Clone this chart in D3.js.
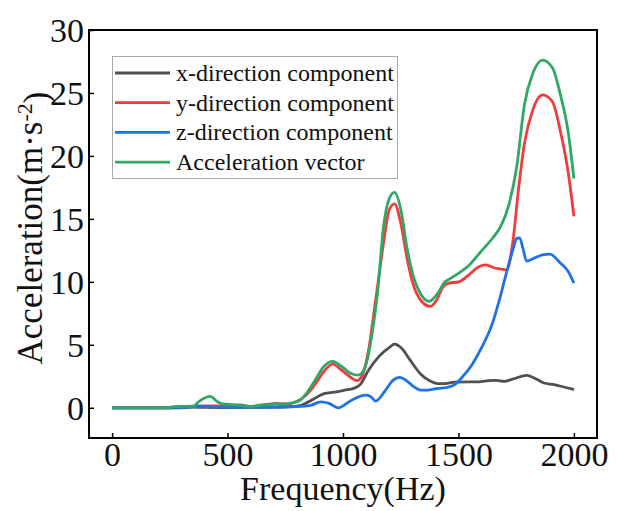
<!DOCTYPE html>
<html>
<head>
<meta charset="utf-8">
<script src="https://cdn.jsdelivr.net/npm/d3@7"></script>
<style>
  html, body { margin: 0; padding: 0; background: #fff; }
  svg { display: block; }
  svg text { font-family: "Liberation Serif", "Times New Roman", serif; }
</style>
</head>
<body>
<svg id="chart" width="624" height="511"></svg>
<script>
// Frequency response of the acceleration components (Hz -> m·s^-2)
const xTicks = [0, 500, 1000, 1500, 2000];
const yTicks = [0, 5, 10, 15, 20, 25, 30];

const seriesNames = ["x-direction component", "y-direction component", "z-direction component", "Acceleration vector"];
const seriesColors = ["#505050", "#f23b3b", "#1f72e6", "#2fa865"];

const xFreq = [0, 200, 300, 350, 400, 500, 600, 700, 760, 814, 873, 918, 963, 1007, 1052, 1074, 1111, 1156, 1201, 1223, 1253, 1290, 1335, 1379, 1409, 1440, 1484, 1543, 1588, 1632, 1662, 1699, 1737, 1796, 1841, 1870, 1915, 1960, 2000];
const xVals = [0, 0, 0.02, 0.05, 0.03, 0.02, 0.03, 0.05, 0.08, 0.18, 0.7, 1.13, 1.24, 1.4, 1.58, 1.84, 3.0, 4.08, 4.8, 5.05, 4.74, 3.8, 2.7, 2.1, 1.92, 1.92, 2.03, 2.05, 2.05, 2.16, 2.18, 2.1, 2.29, 2.58, 2.24, 1.97, 1.84, 1.63, 1.45];

const yFreq = [0, 250, 270, 350, 400, 450, 500, 560, 600, 640, 700, 760, 800, 840, 873, 918, 955, 993, 1037, 1060, 1082, 1111, 1141, 1175, 1200, 1223, 1252, 1278, 1304, 1338, 1378, 1407, 1433, 1459, 1502, 1545, 1588, 1618, 1657, 1692, 1709, 1735, 1761, 1786, 1821, 1864, 1907, 1941, 1976, 2000];
const yVals = [0, 0, 0.05, 0.1, 0.15, 0.15, 0.2, 0.2, 0.1, 0.2, 0.3, 0.3, 0.5, 1.0, 1.7, 2.9, 3.47, 3.0, 2.37, 2.15, 2.5, 4.6, 8.5, 13.0, 15.7, 16.2, 14.5, 11.8, 9.8, 8.5, 8.05, 8.6, 9.6, 9.9, 10.0, 10.55, 11.2, 11.35, 11.1, 11.0, 10.95, 13.1, 17.5, 21.0, 23.6, 24.85, 24.3, 22.0, 18.6, 15.2];

const zFreq = [0, 300, 382, 450, 600, 800, 860, 903, 940, 978, 1037, 1097, 1119, 1141, 1186, 1216, 1245, 1275, 1305, 1335, 1364, 1409, 1454, 1484, 1513, 1558, 1603, 1647, 1677, 1707, 1735, 1752, 1765, 1780, 1795, 1830, 1865, 1895, 1941, 1976, 2000];
const zVals = [0, 0, 0.12, 0.05, 0.03, 0.1, 0.2, 0.47, 0.35, 0.0, 0.6, 1.0, 0.9, 0.53, 1.45, 2.18, 2.42, 2.15, 1.7, 1.4, 1.4, 1.53, 1.63, 1.84, 2.37, 3.4, 4.87, 6.7, 8.55, 10.66, 12.5, 13.45, 13.5, 12.6, 11.65, 11.9, 12.15, 12.2, 11.5, 10.8, 9.9];

const vFreq = [0, 230, 270, 300, 350, 380, 425, 455, 480, 520, 560, 600, 640, 680, 710, 740, 780, 814, 840, 873, 918, 955, 993, 1037, 1067, 1097, 1126, 1149, 1175, 1200, 1223, 1252, 1278, 1304, 1338, 1373, 1407, 1442, 1468, 1502, 1545, 1597, 1649, 1683, 1718, 1752, 1786, 1821, 1864, 1907, 1941, 1976, 2000];
const vVals = [0, 0, 0.08, 0.1, 0.12, 0.55, 0.9, 0.5, 0.3, 0.25, 0.2, 0.1, 0.2, 0.25, 0.35, 0.3, 0.4, 0.6, 1.1, 2.0, 3.3, 3.68, 3.3, 2.7, 2.6, 3.3, 5.9, 9.0, 14.3, 16.6, 17.1, 15.6, 12.6, 10.5, 9.0, 8.45, 9.0, 10.0, 10.3, 10.7, 11.3, 12.4, 13.5, 14.4, 16.1, 19.1, 24.1, 26.5, 27.6, 27.0, 24.9, 21.8, 18.2];

const svg = d3.select("#chart");
const serif = "'Liberation Serif', 'Times New Roman', serif";
const frame = { left: 89, right: 597, top: 30, bottom: 438 };

const x = d3.scaleLinear().domain([-100, 2100]).range([frame.left, frame.right]);
const y = d3.scaleLinear().domain([-2.4, 30]).range([frame.bottom, frame.top]);

// axes with inward ticks
const xAxis = svg.append("g")
  .attr("transform", `translate(0,${frame.bottom})`)
  .call(d3.axisBottom(x).tickValues(xTicks).tickSize(-5).tickPadding(4).tickFormat(d3.format("d")));
const yAxis = svg.append("g")
  .attr("transform", `translate(${frame.left},0)`)
  .call(d3.axisLeft(y).tickValues(yTicks).tickSize(-5).tickPadding(5).tickFormat(d3.format("d")));

[xAxis, yAxis].forEach(g => {
  g.attr("font-family", serif);
  g.select(".domain").remove();
  g.selectAll(".tick line").attr("stroke", "#000").attr("stroke-width", 1.5);
  g.selectAll(".tick text")
    .attr("fill", "#111")
    .attr("font-family", serif)
    .style("font-size", "34px");
});
yAxis.selectAll(".tick text").attr("dy", "0.34em");

// series lines
const line = d3.line().x(d => x(d[0])).y(d => y(d[1])).curve(d3.curveMonotoneX);
const series = [
  [xFreq, xVals],
  [yFreq, yVals],
  [zFreq, zVals],
  [vFreq, vVals]
];
series.forEach(([fs, vs], i) => {
  svg.append("path")
    .datum(fs.map((f, k) => [f, vs[k]]))
    .attr("fill", "none")
    .attr("stroke", seriesColors[i])
    .attr("stroke-width", 2.8)
    .attr("stroke-linejoin", "round")
    .attr("d", line);
});

// plot frame
svg.append("rect")
  .attr("x", frame.left).attr("y", frame.top)
  .attr("width", frame.right - frame.left).attr("height", frame.bottom - frame.top)
  .attr("fill", "none").attr("stroke", "#000").attr("stroke-width", 2);

// legend
const legend = svg.append("g");
legend.append("rect")
  .attr("x", 112.5).attr("y", 56.5).attr("width", 285).attr("height", 122)
  .attr("fill", "#fff").attr("stroke", "#a8a8a8").attr("stroke-width", 1);
seriesNames.forEach((name, i) => {
  const cy = 73 + i * 29.7;
  legend.append("line")
    .attr("x1", 115).attr("x2", 170).attr("y1", cy).attr("y2", cy)
    .attr("stroke", seriesColors[i]).attr("stroke-width", 2.8);
  legend.append("text")
    .attr("x", 176).attr("y", cy).attr("dy", "0.33em")
    .attr("fill", "#111")
    .attr("font-family", serif)
    .style("font-size", "24px")
    .text(name);
});

// axis titles
svg.append("text")
  .attr("x", (frame.left + frame.right) / 2).attr("y", 500)
  .attr("text-anchor", "middle").attr("fill", "#111")
  .attr("font-family", serif)
  .style("font-size", "34px")
  .text("Frequency(Hz)");

const yTitle = svg.append("text")
  .attr("transform", `translate(42,228) rotate(-90)`)
  .attr("text-anchor", "middle").attr("fill", "#111")
  .attr("font-family", serif)
  .style("font-size", "35px");
yTitle.append("tspan").text("Acceleration(m·s");
yTitle.append("tspan").attr("dy", "-0.45em").style("font-size", "22px").text("-2");
yTitle.append("tspan").attr("dy", "0.45em").text(")");
</script>
</body>
</html>
